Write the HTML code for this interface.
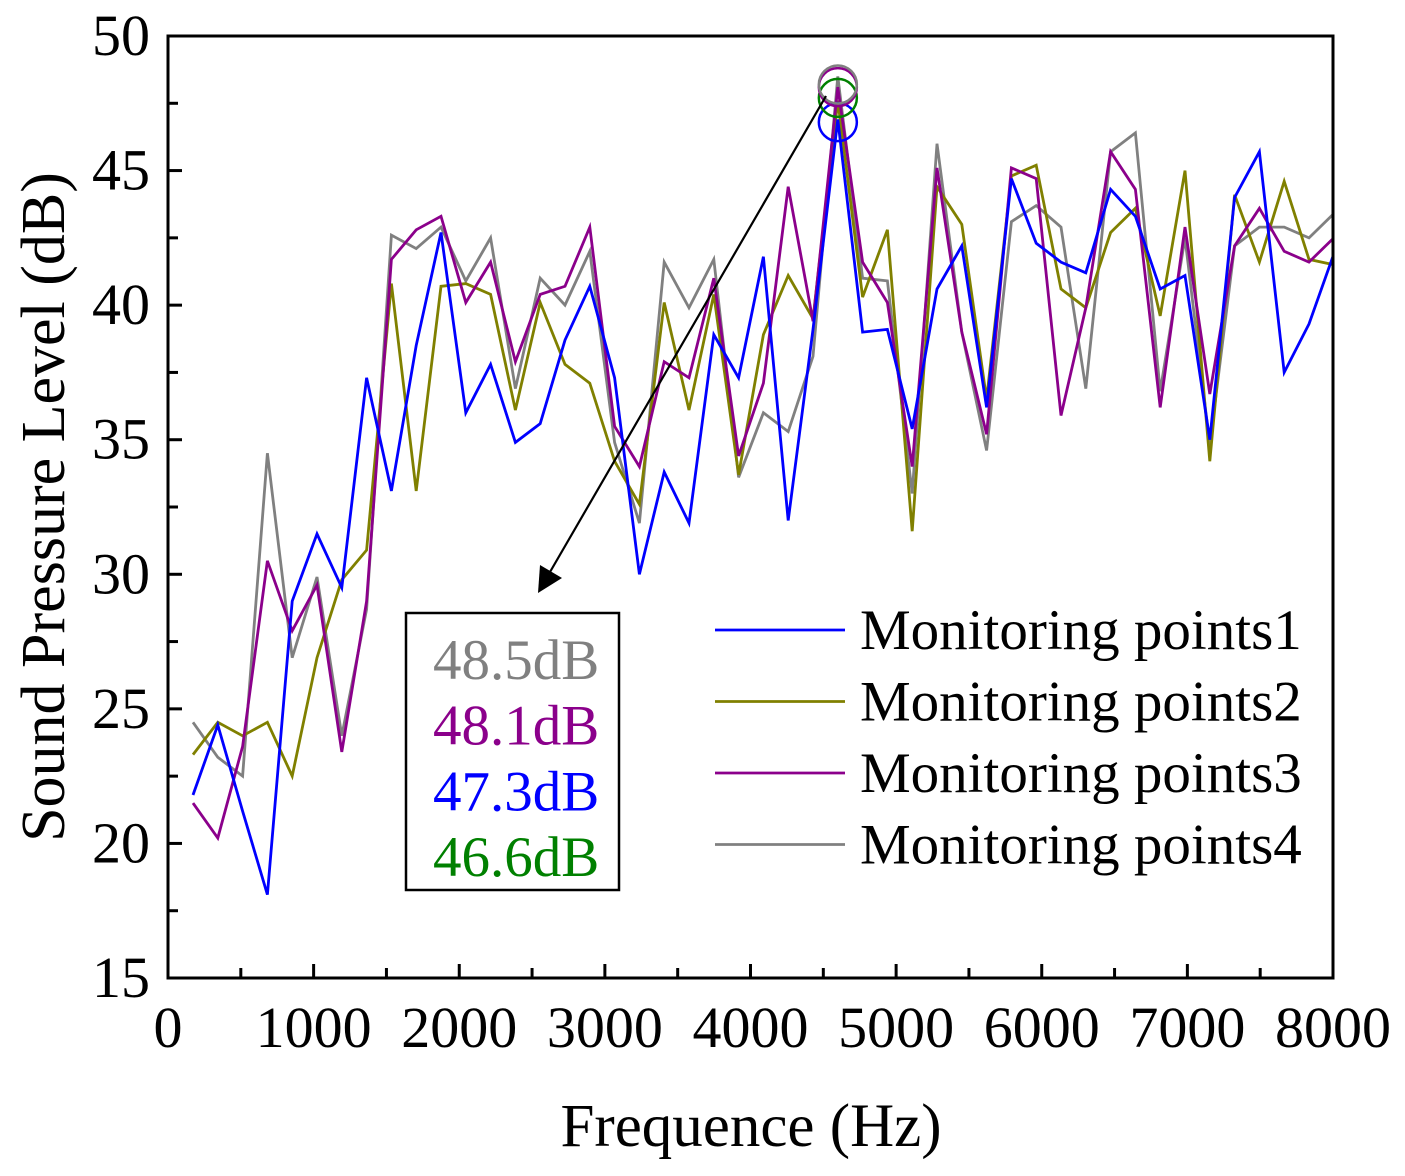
<!DOCTYPE html>
<html><head><meta charset="utf-8"><style>
html,body{margin:0;padding:0;background:#fff}
svg{display:block;font-family:"Liberation Serif",serif}
</style></head><body>
<svg id="chart" width="1405" height="1176" viewBox="0 0 1405 1176" xmlns="http://www.w3.org/2000/svg">
</svg>
<script>
const freqStart = 172, freqStep = 170.3;
const s1 = [21.8,24.4,21.2,18.1,29.0,31.5,29.5,37.3,33.1,38.5,42.7,36.0,37.8,34.9,35.6,38.7,40.7,37.3,30.0,33.8,31.9,38.9,37.3,41.8,32.0,39.1,46.9,39.0,39.1,35.4,40.6,42.2,36.2,44.7,42.3,41.6,41.2,44.3,43.3,40.6,41.1,35.0,44.0,45.7,37.5,39.3,41.9];
const s2 = [23.3,24.5,24.0,24.5,22.5,26.9,29.8,30.9,40.8,33.1,40.7,40.8,40.4,36.1,40.1,37.8,37.1,34.2,32.6,40.1,36.1,40.4,33.7,38.9,41.1,39.5,47.6,40.3,42.8,31.6,44.4,43.0,36.5,44.8,45.2,40.6,39.9,42.7,43.6,39.6,45.0,34.2,44.1,41.6,44.6,41.7,41.5];
const s3 = [21.5,20.2,23.6,30.5,27.9,29.6,23.4,29.0,41.7,42.8,43.3,40.1,41.6,37.9,40.4,40.7,42.9,35.5,34.0,37.9,37.3,41.0,34.4,37.1,44.4,39.4,48.1,41.6,40.1,34.0,45.1,39.0,35.2,45.1,44.7,35.9,39.9,45.7,44.3,36.2,42.9,36.7,42.2,43.6,42.0,41.6,42.5];
const s4 = [24.5,23.2,22.5,34.5,26.9,29.9,24.0,28.7,42.6,42.1,42.9,40.9,42.5,36.9,41.0,40.0,42.0,34.9,31.9,41.6,39.9,41.7,33.6,36.0,35.3,38.1,48.5,41.0,40.9,33.0,46.0,39.0,34.6,43.1,43.7,42.9,36.9,45.7,46.4,36.8,42.5,34.8,42.2,42.9,42.9,42.5,43.4];
const seriesNames = ["Monitoring points1","Monitoring points2","Monitoring points3","Monitoring points4"];
const peakValues = [48.2,48.1,47.7,46.8];
const peakLabels = ["48.5dB","48.1dB","47.3dB","46.6dB"];
const xTicks = [0,1000,2000,3000,4000,5000,6000,7000,8000];
const yTicks = [15,20,25,30,35,40,45,50];

const NS="http://www.w3.org/2000/svg";
const svg=document.getElementById('chart');
const L=168,R=1333,T=36,B=978;
const xs=f=>L+(f/8000)*(R-L);
const ys=v=>B-(v-15)/35*(B-T);
function mk(tag,attrs,parent){const e=document.createElementNS(NS,tag);for(const k in attrs)e.setAttribute(k,attrs[k]);(parent||svg).appendChild(e);return e;}
const colors=["#0000ff","#808000","#8b008b","#808080"];
const data=[s1,s2,s3,s4];
[3,1,2,0].forEach(i=>{
  const pts=data[i].map((v,k)=>xs(freqStart+k*freqStep).toFixed(1)+','+ys(v).toFixed(1)).join(' ');
  const p=mk('polyline',{points:pts,fill:'none',stroke:colors[i],'stroke-width':2.8,'stroke-linejoin':'miter'});
  
  
});
mk('rect',{x:R+1.5,y:0,width:80,height:1000,fill:'#fff'});
const fr=mk('rect',{x:L,y:T,width:R-L,height:B-T,fill:'none',stroke:'#000','stroke-width':3});


for(let v=15;v<=50;v+=2.5){const y=ys(v);const major=(v%5===0);mk('line',{x1:L,x2:L+(major?14:10),y1:y,y2:y,stroke:'#000','stroke-width':3});}
yTicks.forEach(v=>{const t=mk('text',{x:150,y:ys(v)+19,'text-anchor':'end','font-size':58});t.textContent=v;

});
for(let f=0;f<=8000;f+=500){const x=xs(f);const major=(f%1000===0);mk('line',{x1:x,x2:x,y1:B,y2:B-(major?14:10),stroke:'#000','stroke-width':3});}
xTicks.forEach(f=>{const t=mk('text',{x:xs(f),y:1047,'text-anchor':'middle','font-size':58});t.textContent=f;

});
const xt=mk('text',{x:751,y:1146,'text-anchor':'middle','font-size':61});xt.textContent='Frequence (Hz)';


const yt=mk('text',{x:0,y:0,'text-anchor':'middle','font-size':62,transform:'translate(64,507) rotate(-90)'});yt.textContent='Sound Pressure Level (dB)';


const circColors=["#808080","#8b008b","#008000","#0000ff"];
const peakX=xs(freqStart+26*freqStep);
[3,2,1,0].forEach(i=>{const c=mk('circle',{cx:peakX,cy:ys(peakValues[i]),r:19,fill:'none',stroke:circColors[i],'stroke-width':2.5});

});
const ar=mk('line',{x1:826,y1:96,x2:550,y2:572,stroke:'#000','stroke-width':2.2});


mk('polygon',{points:'538,593 540,565 562,578',fill:'#000'});
const bx=mk('rect',{x:406,y:613,width:213,height:277,fill:'#fff',stroke:'#000','stroke-width':2.5});


const labelColors=["#808080","#8b008b","#0000ff","#008000"];
peakLabels.forEach((s,i)=>{const t=mk('text',{x:433,y:679+i*65.7,'font-size':57,fill:labelColors[i]});t.textContent=s;

});
seriesNames.forEach((n,i)=>{const y=630+i*71.5;
const ln=mk('line',{x1:715,x2:845,y1:y,y2:y,stroke:colors[i],'stroke-width':2.8});


const t=mk('text',{x:860,y:y+19,'font-size':57});t.textContent=n;

});
</script>
</body></html>
